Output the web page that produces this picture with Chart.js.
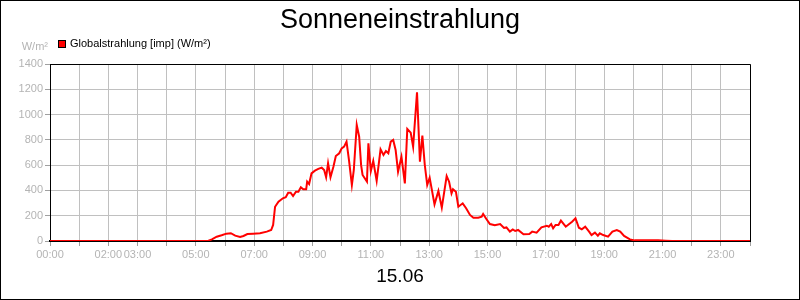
<!DOCTYPE html>
<html>
<head>
<meta charset="utf-8">
<script src="https://cdn.jsdelivr.net/npm/chart.js@4/dist/chart.umd.min.js"></script>
<style>
  body { margin: 0; background: #fff; }
  canvas { display: block; }
</style>
</head>
<body>
<canvas id="sonne" width="800" height="300"></canvas>
<script>
const times = ['00:00','05:15','05:25','05:33','05:43','05:53','06:03','06:12','06:21','06:31',
  '06:38','06:46','06:58','07:12','07:26','07:35','07:39','07:43','07:50','07:59',
  '08:05','08:10','08:15','08:20','08:26','08:31','08:36','08:41','08:47','08:49',
  '08:53','08:58','09:05','09:12','09:19','09:24','09:28','09:32','09:37','09:43',
  '09:48','09:55','10:00','10:05','10:10','10:15','10:21','10:25','10:31','10:36',
  '10:40','10:43','10:52','10:55','11:00','11:05','11:12','11:20','11:26','11:31',
  '11:36','11:41','11:46','11:51','11:56','12:03','12:10','12:15','12:22','12:27',
  '12:35','12:41','12:46','12:51','12:56','13:01','13:11','13:19','13:26','13:36',
  '13:41','13:46','13:49','13:55','14:00','14:09','14:16','14:24','14:31','14:41',
  '14:48','14:51','14:58','15:05','15:15','15:26','15:34','15:39','15:46','15:52',
  '15:57','16:03','16:14','16:26','16:32','16:41','16:51','17:02','17:06','17:11',
  '17:15','17:20','17:26','17:31','17:41','17:50','17:54','18:01','18:08','18:14',
  '18:21','18:29','18:34','18:41','18:47','18:51','18:58','19:08','19:17','19:26',
  '19:33','19:41','19:53','20:03','20:51','21:07','21:20','24:00'];

const globalstrahlung = [0,0,0,13,34,45,58,62,42,32,
  40,55,58,61,74,87,127,271,311,338,
  346,382,382,356,390,390,425,409,409,469,
  451,535,556,570,580,562,504,615,504,588,
  672,694,733,746,786,641,443,562,918,825,
  600,522,470,773,553,633,475,725,680,712,
  694,786,799,720,548,667,456,886,857,746,
  1176,627,833,601,443,501,290,396,264,514,
  469,377,409,390,271,298,259,206,184,184,
  192,214,172,134,124,134,103,107,74,92,
  79,87,53,55,74,66,108,121,113,134,
  100,127,127,161,113,140,153,180,105,92,
  113,74,47,66,42,61,47,34,74,87,
  74,40,13,5,5,2,0,0];

const xTickLabels = ['00:00','','02:00','03:00','','05:00','','07:00','','09:00','','11:00','',
  '13:00','','15:00','','17:00','','19:00','','21:00','','23:00',''];

const titleText = 'Sonneneinstrahlung';
const seriesLabel = 'Globalstrahlung [imp] (W/m²)';
const unitLabel = 'W/m²';
const dateLabel = '15.06';

function toMinutes(t) {
  const p = t.split(':');
  return parseInt(p[0]) * 60 + parseInt(p[1]);
}

const points = times.map((t, i) => ({x: toMinutes(t), y: globalstrahlung[i]}));

const FONT = '"Liberation Sans", Arial, sans-serif';

// frame, legend and unit text
const extras = {
  id: 'extras',
  afterDraw(chart) {
    const ctx = chart.ctx;
    const a = chart.chartArea;
    ctx.save();
    ctx.strokeStyle = '#000';
    ctx.lineWidth = 1;
    ctx.beginPath();
    ctx.moveTo(a.left, Math.round(a.top) + 0.5);
    ctx.lineTo(Math.round(a.right) + 0.5, Math.round(a.top) + 0.5);
    ctx.lineTo(Math.round(a.right) + 0.5, a.bottom);
    ctx.stroke();
    ctx.strokeRect(0.5, 0.5, 799, 299);

    ctx.fillStyle = 'rgb(255,0,0)';
    ctx.fillRect(58, 40, 8, 8);
    ctx.strokeStyle = '#000';
    ctx.strokeRect(58.5, 40.5, 7, 7);
    ctx.fillStyle = '#000';
    ctx.font = '11px ' + FONT;
    ctx.textBaseline = 'middle';
    ctx.textAlign = 'left';
    ctx.fillText(seriesLabel, 70, 44);

    ctx.fillStyle = '#b4b4b4';
    ctx.textAlign = 'right';
    ctx.fillText(unitLabel, 48, 47);
    ctx.restore();
  }
};

new Chart(document.getElementById('sonne'), {
  type: 'line',
  data: {
    datasets: [{
      label: seriesLabel,
      data: points,
      borderColor: 'rgb(255,0,0)',
      backgroundColor: 'rgb(255,0,0)',
      borderWidth: 2,
      pointRadius: 0,
      tension: 0
    }]
  },
  options: {
    responsive: false,
    animation: false,
    layout: {padding: 0},
    plugins: {
      legend: {display: false},
      tooltip: {enabled: false},
      title: {
        display: true,
        text: titleText,
        color: '#000',
        font: {family: FONT, size: 27, weight: 'normal', lineHeight: 1.2},
        padding: {top: 4, bottom: 27.6}
      }
    },
    scales: {
      x: {
        type: 'linear',
        min: 0,
        max: 1440,
        afterFit: (s) => { s.height = 59; },
        afterBuildTicks: (s) => {
          s.ticks = xTickLabels.map((l, i) => ({value: i * 60}));
        },
        ticks: {
          autoSkip: false,
          maxRotation: 0,
          padding: 2,
          color: '#b4b4b4',
          font: {family: FONT, size: 11},
          callback: (v) => xTickLabels[Math.round(v / 60)]
        },
        grid: {color: '#c0c0c0', tickColor: '#a0a0a0', tickLength: 5},
        border: {color: '#000', width: 2},
        title: {
          display: true,
          text: dateLabel,
          color: '#000',
          font: {family: FONT, size: 19},
          padding: {top: 0, bottom: 11.6}
        }
      },
      y: {
        min: 0,
        max: 1400,
        afterFit: (s) => { s.width = 50; },
        ticks: {
          stepSize: 200,
          padding: 2,
          color: '#b4b4b4',
          font: {family: FONT, size: 11},
          callback: (v) => String(v)
        },
        grid: {color: '#c0c0c0', tickColor: '#a0a0a0', tickLength: 5},
        border: {color: '#000', width: 1}
      },
      yRight: {
        position: 'right',
        display: true,
        min: 0,
        max: 1400,
        afterFit: (s) => { s.width = 50; },
        ticks: {display: false},
        grid: {display: false},
        border: {display: false}
      }
    }
  },
  plugins: [extras]
});
</script>
</body>
</html>
